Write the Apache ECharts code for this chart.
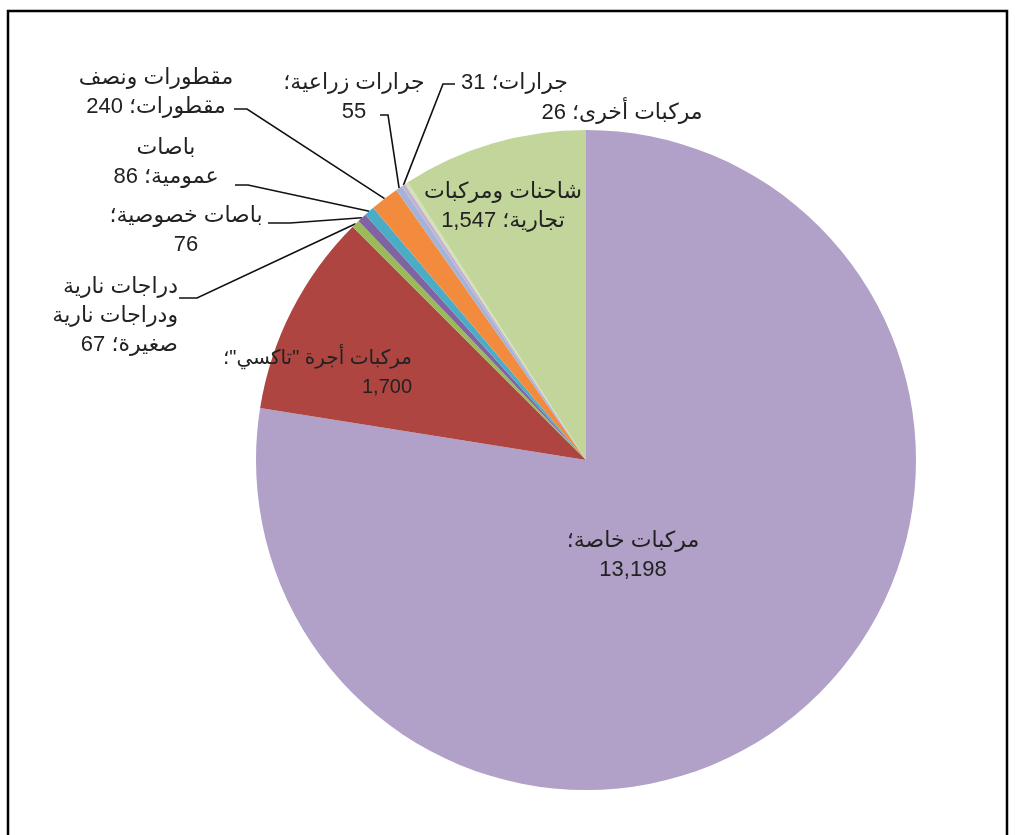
<!DOCTYPE html>
<html>
<head>
<meta charset="utf-8">
<script src="https://cdn.jsdelivr.net/npm/echarts@6/dist/echarts.min.js"></script>
<style>
  html, body { margin:0; padding:0; background:#fff; }
  #chart { width:1015px; height:835px; }
</style>
</head>
<body>
<div id="chart" dir="rtl"></div>
<script>
// البيانات
const categories = [
  "مركبات خاصة",
  "مركبات أجرة \"تاكسي\"",
  "دراجات نارية ودراجات نارية صغيرة",
  "باصات خصوصية",
  "باصات عمومية",
  "مقطورات ونصف مقطورات",
  "جرارات زراعية",
  "جرارات",
  "مركبات أخرى",
  "شاحنات ومركبات تجارية"
];
const values = [13198, 1700, 67, 76, 86, 240, 55, 31, 26, 1547];
const colors = ["#B1A0C7","#AE4541","#9BBB59","#8064A2","#4BACC6","#F28B3E","#A3B4D8","#C7B1D2","#D3E2B6","#C2D69B"];

// تقسيم النص على الأسطر (عدد الكلمات قبل كل فاصل)
const breaks = [[2],[3],[2,4],[2],[1],[2],[2],[],[],[2]];

// مواضع التسميات
const spots = [
  { x:633, y:555, align:"center" },
  { x:412, y:373, align:"right", size:20 },
  { x:178, y:316, align:"right", line:[[197,298],[179,298]] },
  { x:186, y:230, align:"center", line:[[290,223],[268,223]] },
  { x:166, y:162, align:"center", line:[[248,185],[235,185]] },
  { x:156, y:92, align:"center", line:[[247,109],[234,109]] },
  { x:354, y:97, align:"center", line:[[388,115],[380,115]] },
  { x:461, y:83, align:"left", line:[[443,84],[455,84]] },
  { x:622, y:113, align:"center" },
  { x:503, y:206, align:"center" }
];

function labelText(i) {
  const words = (categories[i] + "؛ " + values[i].toLocaleString("en-US")).split(" ");
  const out = [];
  let from = 0;
  breaks[i].concat([words.length]).forEach(b => {
    out.push(words.slice(from, b).join(" "));
    from = b;
  });
  return out.join("\n");
}

const chart = echarts.init(document.getElementById("chart"));
chart.setOption({
  animation:false,
  color:colors,
  graphic:[{
    type:"rect", silent:true,
    shape:{ x:8, y:11, width:999, height:900 },
    style:{ fill:"none", stroke:"#000", lineWidth:2.5 }
  }],
  series:[{
    type:"pie",
    center:[586,460],
    radius:330,
    startAngle:90,
    clockwise:true,
    avoidLabelOverlap:false,
    data:categories.map((c,i)=>({
      name:c, value:values[i],
      label:{
        position: spots[i].line || i===8 ? "outside" : "inside",
        fontSize: spots[i].size || 22
      },
      labelLine:{ show: !!spots[i].line }
    })),
    label:{
      formatter:p=>labelText(p.dataIndex),
      color:"#222",
      fontSize:22,
      lineHeight:29,
      fontFamily:"Arial, 'Liberation Sans', 'DejaVu Sans', sans-serif"
    },
    labelLine:{ lineStyle:{ color:"#111", width:1.6 }, length:10, length2:10 },
    itemStyle:{ borderWidth:0 },
    emphasis:{ disabled:true },
    labelLayout:function(p) {
      const s = spots[p.dataIndex];
      const res = { x:s.x, y:s.y, align:s.align, verticalAlign:"middle" };
      if (s.line && p.labelLinePoints) {
        res.labelLinePoints = [p.labelLinePoints[0]].concat(s.line);
      }
      return res;
    }
  }]
});
</script>
</body>
</html>
